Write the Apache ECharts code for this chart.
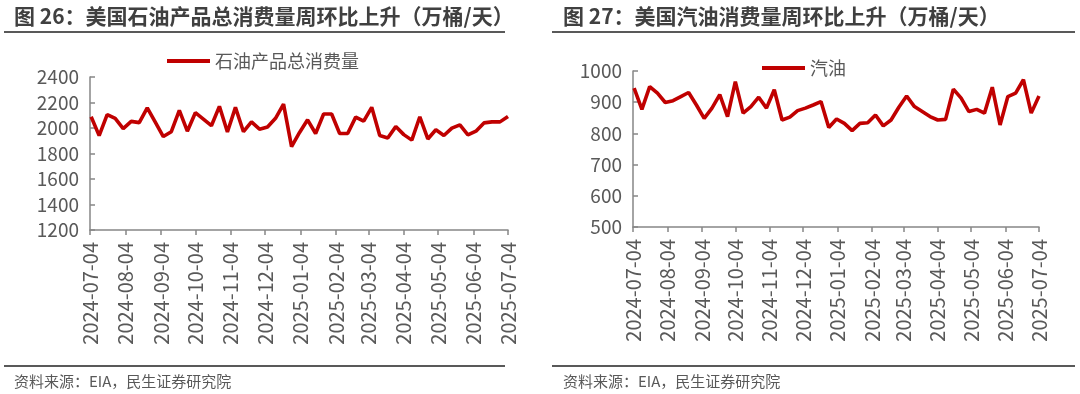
<!DOCTYPE html>
<html>
<head>
<meta charset="utf-8">
<script src="https://cdn.jsdelivr.net/npm/echarts@6/dist/echarts.min.js"></script>
<style>
html,body{margin:0;padding:0;background:#fff;}
#c{width:1080px;height:394px;}
</style>
</head>
<body>
<div id="c"></div>
<script>
// weekly dates (EIA week ending)
const dates = ['2024-07-05','2024-07-12','2024-07-19','2024-07-26','2024-08-02','2024-08-09','2024-08-16','2024-08-23','2024-08-30','2024-09-06','2024-09-13','2024-09-20','2024-09-27','2024-10-04','2024-10-11','2024-10-18','2024-10-25','2024-11-01','2024-11-08','2024-11-15','2024-11-22','2024-11-29','2024-12-06','2024-12-13','2024-12-20','2024-12-27','2025-01-03','2025-01-10','2025-01-17','2025-01-24','2025-01-31','2025-02-07','2025-02-14','2025-02-21','2025-02-28','2025-03-07','2025-03-14','2025-03-21','2025-03-28','2025-04-04','2025-04-11','2025-04-18','2025-04-25','2025-05-02','2025-05-09','2025-05-16','2025-05-23','2025-05-30','2025-06-06','2025-06-13','2025-06-20','2025-06-27','2025-07-04'];

// 石油产品总消费量 (万桶/天)
const totalProducts = [2088,1940,2105,2076,1995,2052,2042,2158,2046,1933,1971,2138,1975,2120,2070,2018,2170,1969,2162,1971,2048,1991,2008,2076,2187,1854,1965,2064,1957,2110,2110,1957,1957,2085,2054,2162,1941,1922,2011,1948,1905,2088,1914,1986,1941,1999,2024,1946,1975,2040,2048,2048,2091];

// 汽油 (万桶/天)
const gasoline = [945,877,950,929,899,905,918,931,891,848,881,924,854,966,865,886,916,881,940,843,852,873,881,891,902,819,846,832,809,832,834,859,824,843,884,920,886,870,854,843,845,942,913,870,877,865,948,827,918,929,972,865,920];

// x-axis tick labels (monthly)
const tickLabels = ['2024-07-04','2024-08-04','2024-09-04','2024-10-04','2024-11-04','2024-12-04','2025-01-04','2025-02-04','2025-03-04','2025-04-04','2025-05-04','2025-06-04','2025-07-04'];

const titles = ['图 26：美国石油产品总消费量周环比上升（万桶/天）','图 27：美国汽油消费量周环比上升（万桶/天）'];
const seriesNames = ['石油产品总消费量','汽油'];
const sourceText = '资料来源：EIA，民生证券研究院';

const FONT = 'Noto Sans CJK SC';
const RED = '#C00000';
const AXIS = '#868686';
const LABEL = '#595959';

const toTs = s => echarts.time.parse(s).getTime();
const tickTs = tickLabels.map(toTs);
const labelOf = {};
tickLabels.forEach((s, i) => { labelOf[tickTs[i]] = s; });

function xAxisCfg(gi) {
  return {
    type: 'value', gridIndex: gi,
    min: tickTs[0], max: tickTs[tickTs.length - 1],
    axisLine: {show: true, lineStyle: {color: AXIS, width: 1.5}},
    axisTick: {show: true, length: 5, lineStyle: {color: AXIS, width: 1.5}, customValues: tickTs},
    axisLabel: {rotate: 90, margin: 12, fontSize: 20, color: LABEL, fontFamily: FONT,
      customValues: tickTs, formatter: v => (labelOf[v] !== undefined ? labelOf[v] : '')},
    splitLine: {show: false}
  };
}
function yAxisCfg(gi, min, max, interval) {
  return {
    type: 'value', gridIndex: gi, min: min, max: max, interval: interval,
    axisLine: {show: true, lineStyle: {color: AXIS, width: 1.5}},
    axisTick: {show: true, inside: true, length: 5, lineStyle: {color: AXIS, width: 1.5}},
    axisLabel: {fontSize: 19, color: LABEL, fontFamily: FONT, margin: 11, formatter: v => String(v)},
    splitLine: {show: false}
  };
}

const chart = echarts.init(document.getElementById('c'), null, {renderer: 'canvas'});
chart.setOption({
  backgroundColor: '#fff',
  animation: false,
  title: [
    {text: titles[0], left: 14, top: 6, padding: 0, textStyle: {fontSize: 21, fontWeight: 'bold', color: '#404040', fontFamily: FONT}},
    {text: titles[1], left: 563, top: 6, padding: 0, textStyle: {fontSize: 21, fontWeight: 'bold', color: '#404040', fontFamily: FONT}}
  ],
  legend: [
    {data: [seriesNames[0]], left: 167, top: 52, padding: 0, icon: 'rect', itemWidth: 43, itemHeight: 4,
      textStyle: {fontSize: 18, color: LABEL, fontFamily: FONT}},
    {data: [seriesNames[1]], left: 762, top: 59, padding: 0, icon: 'rect', itemWidth: 43, itemHeight: 4,
      textStyle: {fontSize: 18, color: LABEL, fontFamily: FONT}}
  ],
  grid: [
    {left: 90, top: 77, width: 418, height: 153},
    {left: 633, top: 71, width: 406, height: 156}
  ],
  xAxis: [xAxisCfg(0), xAxisCfg(1)],
  yAxis: [yAxisCfg(0, 1200, 2400, 200), yAxisCfg(1, 500, 1000, 100)],
  series: [
    {name: seriesNames[0], type: 'line', xAxisIndex: 0, yAxisIndex: 0, showSymbol: false, symbol: 'none',
      lineStyle: {color: RED, width: 3.6}, itemStyle: {color: RED},
      data: dates.map((d, i) => [toTs(d), totalProducts[i]])},
    {name: seriesNames[1], type: 'line', xAxisIndex: 1, yAxisIndex: 1, showSymbol: false, symbol: 'none',
      lineStyle: {color: RED, width: 3.6}, itemStyle: {color: RED},
      data: dates.map((d, i) => [toTs(d), gasoline[i]])}
  ],
  graphic: [
    {type: 'line', shape: {x1: 4, y1: 32, x2: 505, y2: 32}, style: {stroke: '#595959', lineWidth: 2}},
    {type: 'line', shape: {x1: 552, y1: 32, x2: 1075, y2: 32}, style: {stroke: '#595959', lineWidth: 2}},
    {type: 'line', shape: {x1: 4, y1: 366, x2: 505, y2: 366}, style: {stroke: '#595959', lineWidth: 2}},
    {type: 'line', shape: {x1: 552, y1: 366, x2: 1075, y2: 366}, style: {stroke: '#595959', lineWidth: 2}},
    {type: 'text', left: 14, top: 374, style: {text: sourceText, fontSize: 15, fill: LABEL, fontFamily: FONT}},
    {type: 'text', left: 563, top: 374, style: {text: sourceText, fontSize: 15, fill: LABEL, fontFamily: FONT}}
  ]
});
</script>
</body>
</html>
